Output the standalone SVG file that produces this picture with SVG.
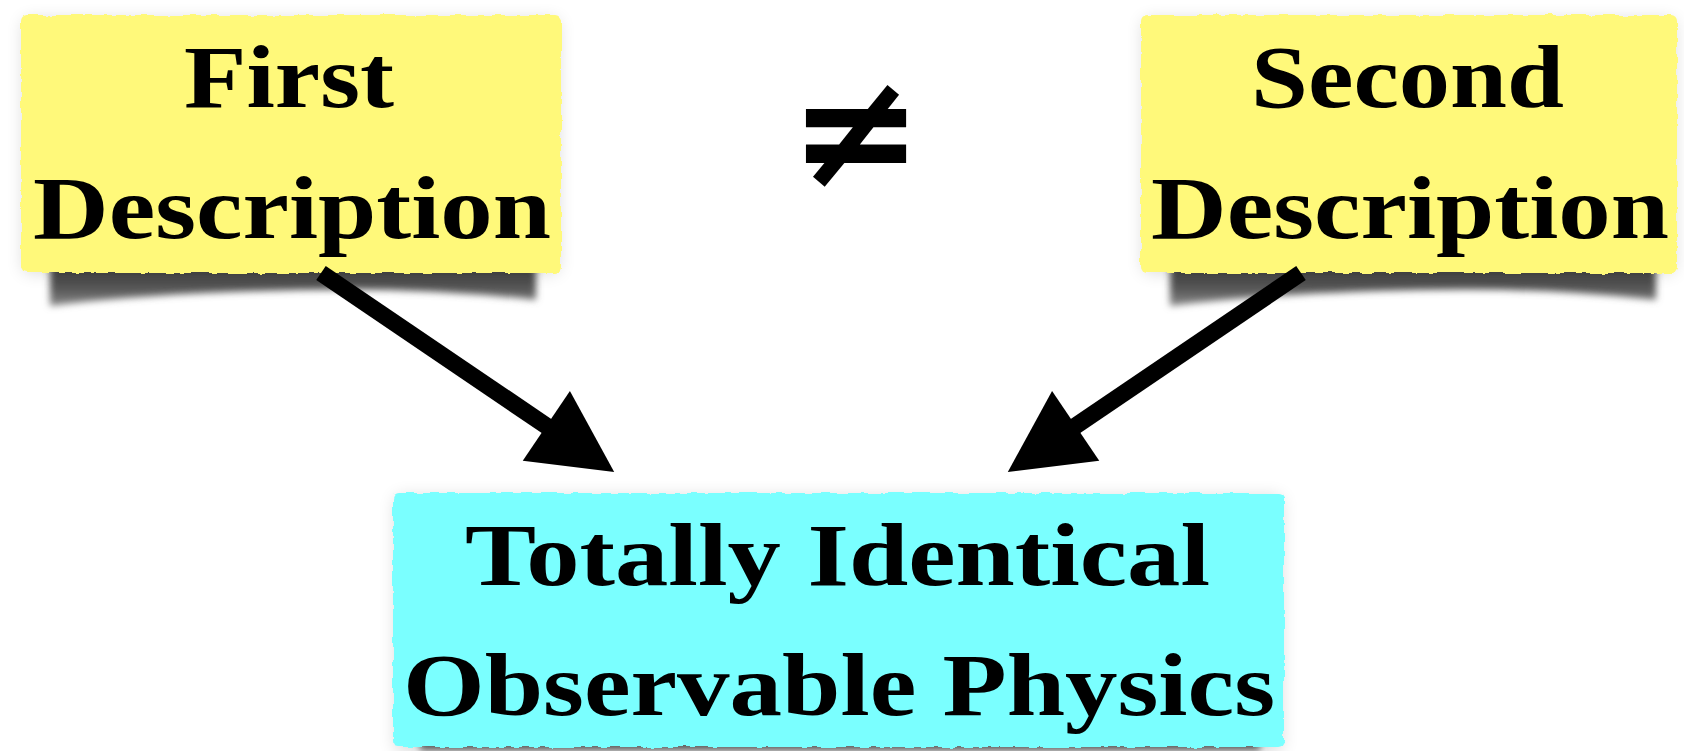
<svg xmlns="http://www.w3.org/2000/svg" width="1684" height="751" viewBox="0 0 1684 751">
  <style>
    .lbl { font-family: "Liberation Serif", "Times New Roman", serif; font-weight: bold; font-size: 88px; fill: #000; }
    .yellow { fill: #FFF97A; }
    .cyan { fill: #7AFFFF; }
    .shadow { fill: url(#shgrad); }
    .halo { fill: #000; opacity: 0.16; }
    .conn { stroke: #000; stroke-width: 17; fill: none; }
  </style>
  <defs>
    <linearGradient id="shgrad" x1="0" y1="0" x2="0" y2="1">
      <stop offset="0" stop-color="#333"/>
      <stop offset="0.6" stop-color="#555"/>
      <stop offset="1" stop-color="#8a8a8a"/>
    </linearGradient>
    <filter id="rough" x="-5%" y="-5%" width="110%" height="110%">
      <feTurbulence type="fractalNoise" baseFrequency="0.09" numOctaves="2" seed="3" result="n"/>
      <feDisplacementMap in="SourceGraphic" in2="n" scale="5" xChannelSelector="R" yChannelSelector="G"/>
    </filter>
    <filter id="soft" x="-20%" y="-40%" width="140%" height="180%">
      <feGaussianBlur stdDeviation="3.5"/>
    </filter>
    <filter id="glow" x="-20%" y="-40%" width="140%" height="180%">
      <feGaussianBlur stdDeviation="9"/>
    </filter>
    <marker id="head" markerUnits="userSpaceOnUse" markerWidth="90" markerHeight="90" viewBox="0 -45 84 90" refX="2" refY="0" orient="auto">
      <path d="M0,-42 L82,0 L0,42 Z" fill="#000"/>
    </marker>
  </defs>
  <rect width="1684" height="751" fill="#fff"/>

  <g id="first-description">
    <rect class="halo" x="24" y="20" width="534" height="252" filter="url(#glow)"/>
    <path class="shadow" d="M50,262 L536,262 L536,300 Q420,287 300,290 Q150,293 50,306 Z" filter="url(#soft)"/>
    <rect class="yellow" x="21" y="15" width="540" height="258" rx="6" filter="url(#rough)"/>
    <text class="lbl" x="184" y="107" textLength="210" lengthAdjust="spacingAndGlyphs">First</text>
    <text class="lbl" x="33" y="238" textLength="518" lengthAdjust="spacingAndGlyphs">Description</text>
  </g>

  <g id="second-description">
    <rect class="halo" x="1144" y="20" width="530" height="252" filter="url(#glow)"/>
    <path class="shadow" d="M1170,262 L1656,262 L1656,300 Q1540,287 1420,290 Q1270,293 1170,306 Z" filter="url(#soft)"/>
    <rect class="yellow" x="1141" y="15" width="536" height="258" rx="6" filter="url(#rough)"/>
    <text class="lbl" x="1251" y="107" textLength="313" lengthAdjust="spacingAndGlyphs">Second</text>
    <text class="lbl" x="1151" y="238" textLength="518" lengthAdjust="spacingAndGlyphs">Description</text>
  </g>

  <g id="not-equal">
    <text x="856" y="186" text-anchor="middle" font-family="DejaVu Sans, sans-serif" font-weight="bold" font-size="160">≠</text>
  </g>

  <g id="observable-physics">
    <rect class="halo" x="396" y="497" width="885" height="254" filter="url(#glow)"/>
    <path class="shadow" d="M420,737 L1260,737 L1260,751 L420,751 Z" filter="url(#soft)"/>
    <rect class="cyan" x="393" y="493" width="891" height="254" rx="6" filter="url(#rough)"/>
    <text class="lbl" x="465" y="585" textLength="745" lengthAdjust="spacingAndGlyphs">Totally Identical</text>
    <text class="lbl" x="403" y="715" textLength="872" lengthAdjust="spacingAndGlyphs">Observable Physics</text>
  </g>

  <g id="connectors">
    <line class="conn" x1="321" y1="273" x2="548" y2="427" marker-end="url(#head)"/>
    <line class="conn" x1="1301" y1="273" x2="1074" y2="427" marker-end="url(#head)"/>
  </g>
</svg>
